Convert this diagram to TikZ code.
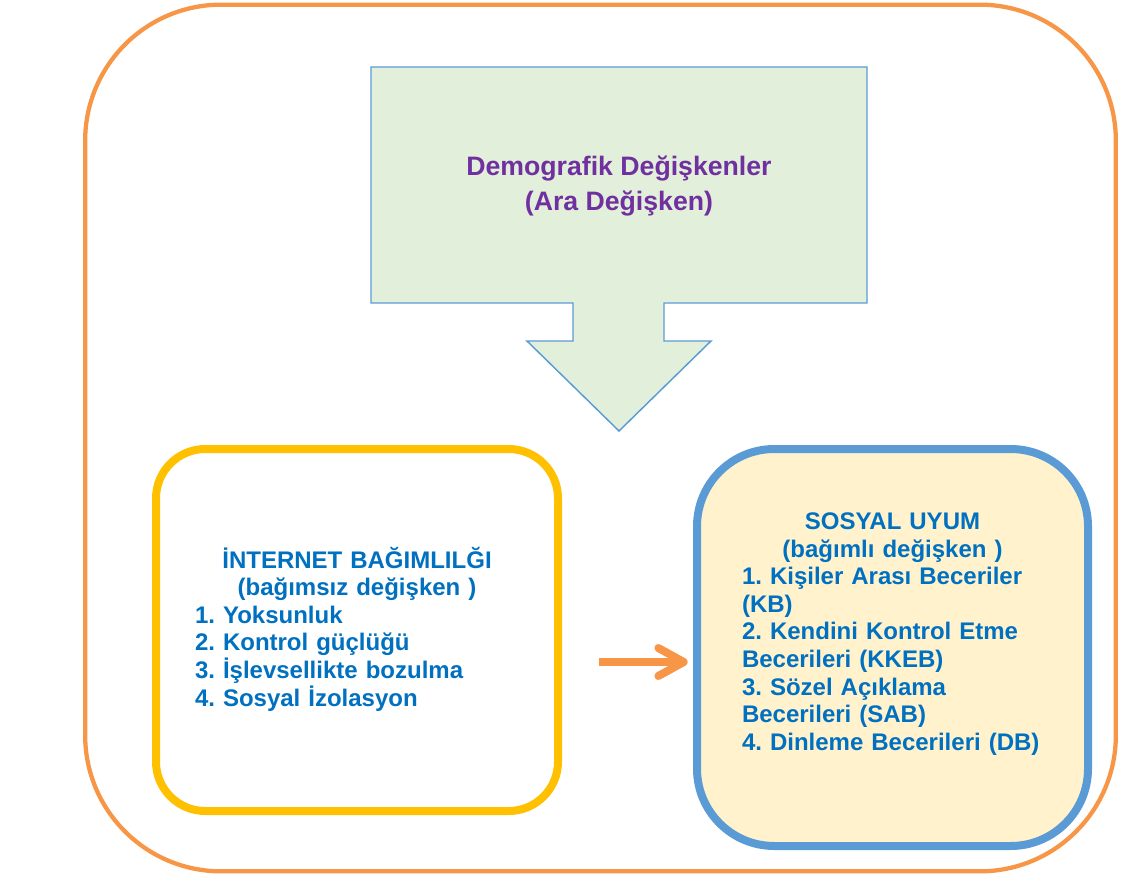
\documentclass[tikz,border=0pt]{standalone}
\usepackage{fontspec}
\setmainfont{Liberation Sans}
\usetikzlibrary{arrows.meta, positioning}

\definecolor{frameorange}{HTML}{F79646}
\definecolor{ibyellow}{HTML}{FFC000}
\definecolor{sublue}{HTML}{5B9BD5}
\definecolor{sufill}{HTML}{FFF2CC}
\definecolor{demofill}{HTML}{E2EFDA}
\definecolor{demopurple}{HTML}{7030A0}
\definecolor{textblue}{HTML}{0070C0}

\begin{document}
\frenchspacing
\begin{tikzpicture}[
    x=0.75pt, y=-0.75pt,
    box/.style={rectangle, line width=6pt, inner sep=0pt, outer sep=0pt},
    txt/.style={font=\bfseries\fontsize{18}{20.7}\selectfont, text=textblue, align=left, inner sep=0pt},
    arrow/.style={-{Straight Barb[length=19pt, width=21pt, round]}, line width=6pt, draw=frameorange}
]
\useasboundingbox (0,0) rectangle (1123,877);

% outer frame
\node[rectangle, draw=frameorange, line width=3.2pt, rounded corners=102pt,
      minimum width=773pt, minimum height=650pt, inner sep=0pt] (frame) at (600.5,438) {};

% demographic variables (block arrow)
\draw[draw=sublue, fill=demofill, line width=1.1pt]
    (371,67) -- (867,67) -- (867,303) -- (664,303) -- (664,341) -- (711,341)
    -- (619,431) -- (527,341) -- (573,341) -- (573,303) -- (371,303) -- cycle;
\node[font=\bfseries\fontsize{20}{26.25}\selectfont, text=demopurple, align=center] (demo) at (619,186)
    {Demografik Değişkenler\\(Ara Değişken)};

% independent and dependent variables
\node[box, draw=ibyellow, fill=white, rounded corners=37pt, minimum width=301.5pt, minimum height=271.5pt] (ibag) at (357,630) {};
\node[box, draw=sublue, fill=sufill, rounded corners=58pt, minimum width=293.25pt, minimum height=297.75pt] (suyum) at (892.5,647.5) {};

\node[txt, text width=243pt] (ibagtxt) at (357,629) {%
    \makebox[\linewidth]{İNTERNET BAĞIMLILĞI}\\
    \makebox[\linewidth]{(bağımsız değişken )}\\
    1. Yoksunluk\\
    2. Kontrol güçlüğü\\
    3. İşlevsellikte bozulma\\
    4. Sosyal İzolasyon};
\node[txt, text width=225.75pt] (suyumtxt) at (892.5,634) {%
    \makebox[\linewidth]{SOSYAL UYUM}\\
    \makebox[\linewidth]{(bağımlı değişken )}\\
    1. Kişiler Arası Beceriler\\
    (KB)\\
    2. Kendini Kontrol Etme\\
    Becerileri (KKEB)\\
    3. Sözel Açıklama\\
    Becerileri (SAB)\\
    4. Dinleme Becerileri (DB)};

\coordinate (ay) at (0,662);
\draw[arrow, shorten <=30.75pt, shorten >=7pt] (ibag.east |- ay) -- (suyum.west |- ay);
\end{tikzpicture}
\end{document}
